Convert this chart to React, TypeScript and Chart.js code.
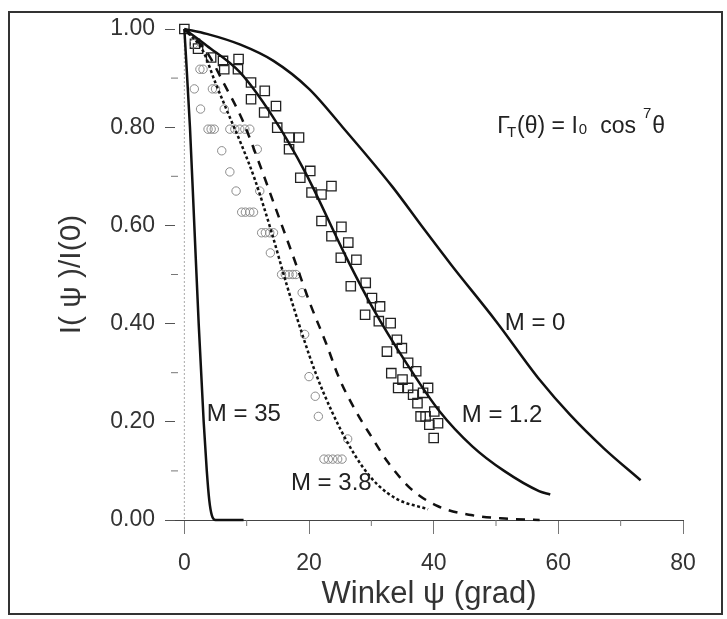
import React, { useEffect, useRef } from 'react';
import { Chart, registerables } from 'chart.js';

Chart.register(...registerables);

const FONT = '"Liberation Sans", Arial, sans-serif';

// axis ticks
const X_TICKS = [0, 20, 40, 60, 80];
const X_MINOR = [10, 30, 50, 70];
const Y_TICKS = [0, 0.2, 0.4, 0.6, 0.8, 1.0];
const Y_MINOR = [0.1, 0.3, 0.5, 0.7, 0.9];

// M = 0 (solid)
const M0_X = [0, 3.6, 9, 14.3, 20, 25.4, 33.3, 38.6, 42.8, 50, 57.1, 61.9, 67.3, 73.2];
const M0_Y = [1.0, 0.99, 0.968, 0.935, 0.878, 0.8, 0.68, 0.59, 0.52, 0.405, 0.284, 0.214, 0.146, 0.081];

// M = 1.2 (solid)
const M12_X = [0, 3.6, 8.9, 14.1, 19.4, 25.9, 30.4, 35.6, 40.9, 46.2, 51.3, 56.9, 58.7];
const M12_Y = [1.0, 0.966, 0.912, 0.823, 0.708, 0.537, 0.428, 0.32, 0.222, 0.15, 0.1, 0.059, 0.052];

// dashed curve
const DASH_X = [0, 3.5, 6.3, 9.3, 12, 14.5, 17.6, 20.2, 22.8, 24.8, 27.5, 30.1, 32.7, 36.4, 40.7, 46, 51.4, 57];
const DASH_Y = [1.0, 0.955, 0.89, 0.815, 0.727, 0.64, 0.532, 0.44, 0.358, 0.29, 0.222, 0.168, 0.117, 0.063, 0.028, 0.01, 0.003, 0];

// M = 3.8 (dotted)
const DOT_X = [0, 3, 5, 7.2, 9.3, 11.3, 13.9, 16.4, 19, 21.1, 23.7, 26.3, 28.5, 31, 34.2, 39.1];
const DOT_Y = [1.0, 0.955, 0.89, 0.823, 0.76, 0.694, 0.59, 0.48, 0.375, 0.298, 0.22, 0.155, 0.11, 0.072, 0.042, 0.022];

// M = 35 (solid)
const M35_X = [0, 0.9, 1.6, 2.3, 3.1, 3.6, 4.0, 4.4, 5.0, 9.5];
const M35_Y = [1.0, 0.8, 0.6, 0.4, 0.2, 0.1, 0.04, 0.01, 0, 0];

// squares (measured)
const SQ_X = [0, 1.7, 2.2, 4.3, 6.2, 6.4, 8.7, 8.6, 10.7, 10.7, 12.9, 12.8, 14.7, 14.9, 16.8, 18.4, 16.8, 18.6, 20.2, 20.4, 22.0, 23.6, 22.0, 25.2, 23.6, 26.3, 25.1, 27.6, 26.7, 29.1, 30.1, 31.4, 29.0, 31.2, 33.1, 34.1, 32.5, 34.9, 35.9, 37.2, 33.2, 35.0, 34.3, 35.9, 39.1, 36.7, 38.3, 37.4, 37.9, 38.7, 40.1, 39.3, 40.7, 40.0];
const SQ_Y = [1.0, 0.97, 0.96, 0.942, 0.935, 0.918, 0.939, 0.918, 0.891, 0.857, 0.874, 0.83, 0.843, 0.799, 0.779, 0.779, 0.755, 0.697, 0.711, 0.667, 0.663, 0.68, 0.609, 0.597, 0.578, 0.565, 0.534, 0.53, 0.476, 0.483, 0.452, 0.435, 0.418, 0.405, 0.401, 0.367, 0.343, 0.35, 0.32, 0.303, 0.299, 0.286, 0.269, 0.269, 0.269, 0.255, 0.259, 0.238, 0.211, 0.211, 0.221, 0.194, 0.197, 0.167];

// circles (measured)
const CI_X = [1.5, 2.5, 3.0, 1.6, 4.5, 5.0, 2.6, 6.4, 3.8, 4.3, 4.8, 7.3, 8.1, 8.9, 9.7, 10.5, 6.0, 11.7, 7.3, 8.3, 12.1, 9.2, 9.8, 10.5, 11.1, 12.4, 13.0, 13.7, 14.3, 13.8, 15.6, 16.2, 16.8, 17.4, 17.9, 18.9, 19.3, 20.0, 21.0, 21.5, 26.2, 22.4, 23.1, 23.8, 24.6, 25.3];
const CI_Y = [0.97, 0.918, 0.918, 0.878, 0.878, 0.878, 0.837, 0.837, 0.796, 0.796, 0.796, 0.796, 0.796, 0.796, 0.796, 0.796, 0.752, 0.755, 0.709, 0.67, 0.67, 0.627, 0.627, 0.627, 0.627, 0.585, 0.585, 0.585, 0.585, 0.544, 0.5, 0.5, 0.5, 0.5, 0.5, 0.463, 0.378, 0.292, 0.252, 0.211, 0.165, 0.124, 0.124, 0.124, 0.124, 0.124];

// curve labels
const LABELS = ['M = 0', 'M = 1.2', 'M = 35', 'M = 3.8'];
const LABEL_X = [51.4, 44.5, 3.6, 17.1];
const LABEL_Y = [0.401, 0.214, 0.216, 0.075];

// formula anchor (left, baseline)
const FORMULA_X = 50.2;
const FORMULA_Y = 0.788;

const pts = (xs: number[], ys: number[]) => xs.map((x, i) => ({ x, y: ys[i] }));

const deco = {
  id: 'deco',
  beforeDraw(chart: any) {
    const ctx = chart.ctx;
    ctx.save();
    ctx.fillStyle = '#fff';
    ctx.fillRect(0, 0, chart.width, chart.height);
    ctx.strokeStyle = '#333';
    ctx.lineWidth = 2;
    ctx.strokeRect(9, 12, 713, 602);
    ctx.restore();
  },
  beforeDatasetsDraw(chart: any) {
    const { ctx, chartArea } = chart;
    const xs = chart.scales.x;
    const ys = chart.scales.y;
    ctx.save();
    const p0 = xs.getPixelForValue(0);
    ctx.strokeStyle = '#aaa';
    ctx.lineWidth = 1;
    ctx.setLineDash([2, 2]);
    ctx.beginPath();
    ctx.moveTo(p0, chartArea.top);
    ctx.lineTo(p0, chartArea.bottom);
    ctx.stroke();
    ctx.setLineDash([]);
    ctx.strokeStyle = '#777';
    X_MINOR.forEach((v) => {
      const p = xs.getPixelForValue(v);
      ctx.beginPath();
      ctx.moveTo(p, chartArea.bottom);
      ctx.lineTo(p, chartArea.bottom + 6);
      ctx.stroke();
    });
    Y_MINOR.forEach((v) => {
      const p = ys.getPixelForValue(v);
      ctx.beginPath();
      ctx.moveTo(chartArea.left - 4, p);
      ctx.lineTo(chartArea.left + 3, p);
      ctx.stroke();
    });
    ctx.restore();
  },
  afterDatasetsDraw(chart: any) {
    const { ctx } = chart;
    const xs = chart.scales.x;
    const ys = chart.scales.y;
    ctx.save();
    ctx.fillStyle = '#222';
    ctx.font = `24px ${FONT}`;
    ctx.textAlign = 'left';
    ctx.textBaseline = 'middle';
    LABELS.forEach((t, i) => {
      ctx.fillText(t, xs.getPixelForValue(LABEL_X[i]), ys.getPixelForValue(LABEL_Y[i]));
    });
    // formula
    ctx.textBaseline = 'alphabetic';
    let cx = xs.getPixelForValue(FORMULA_X);
    const by = ys.getPixelForValue(FORMULA_Y);
    const big = `23px ${FONT}`;
    const small = `15px ${FONT}`;
    ctx.font = big;
    ctx.fillText('Γ', cx, by);
    cx += ctx.measureText('Γ').width - 3;
    ctx.font = small;
    ctx.fillText('T', cx, by + 4);
    cx += ctx.measureText('T').width + 1;
    ctx.font = big;
    ctx.fillText('(θ) = I', cx, by);
    cx += ctx.measureText('(θ) = I').width + 1;
    ctx.font = small;
    ctx.fillText('0', cx, by + 1);
    cx += ctx.measureText('0').width + 13;
    ctx.font = big;
    ctx.fillText('cos', cx, by);
    cx += ctx.measureText('cos').width + 7;
    ctx.font = small;
    ctx.fillText('7', cx, by - 15);
    cx += ctx.measureText('7').width + 1;
    ctx.font = big;
    ctx.fillText('θ', cx, by);
    ctx.restore();
  },
};

export default function App() {
  const ref = useRef<HTMLCanvasElement>(null);
  useEffect(() => {
    if (!ref.current) return;
    const line = (xs: number[], ys: number[], dash: number[]) => ({
      data: pts(xs, ys),
      showLine: true,
      borderColor: '#111',
      borderWidth: 2.5,
      borderDash: dash,
      pointRadius: 0,
      cubicInterpolationMode: 'monotone',
      fill: false,
      clip: false,
    });
    const chart = new Chart(ref.current, {
      type: 'scatter',
      data: {
        datasets: [
          line(M0_X, M0_Y, []),
          line(M12_X, M12_Y, []),
          line(DASH_X, DASH_Y, [9, 8]),
          line(DOT_X, DOT_Y, [3, 2.5]),
          line(M35_X, M35_Y, []),
          {
            data: pts(CI_X, CI_Y),
            showLine: false,
            pointStyle: 'circle',
            pointRadius: 4.2,
            pointBorderColor: '#8c8c8c',
            pointBackgroundColor: 'rgba(0,0,0,0)',
            pointBorderWidth: 1,
            clip: false,
          },
          {
            data: pts(SQ_X, SQ_Y),
            showLine: false,
            pointStyle: 'rect',
            pointRadius: 6.6,
            pointBorderColor: '#222',
            pointBackgroundColor: 'rgba(0,0,0,0)',
            pointBorderWidth: 1.3,
            clip: false,
          },
        ] as any,
      },
      options: {
        responsive: false,
        animation: false,
        devicePixelRatio: 1,
        layout: { padding: { left: 54, right: 44, top: 29, bottom: 6 } },
        plugins: { legend: { display: false }, tooltip: { enabled: false } },
        scales: {
          x: {
            type: 'linear',
            min: -1.5,
            max: 80,
            afterBuildTicks: (s: any) => {
              s.ticks = X_TICKS.map((v) => ({ value: v }));
            },
            afterFit: (s: any) => {
              s.height = 93;
            },
            ticks: { font: { family: FONT, size: 23 }, color: '#333', padding: 16, maxRotation: 0 },
            grid: { drawOnChartArea: false, tickLength: 14, tickColor: '#777', tickWidth: 1 },
            border: { display: true, color: '#444', width: 1 },
            title: { display: true, text: 'Winkel ψ (grad)', font: { family: FONT, size: 31 }, color: '#333', padding: 0 },
          },
          y: {
            type: 'linear',
            min: 0,
            max: 1,
            afterBuildTicks: (s: any) => {
              s.ticks = Y_TICKS.map((v) => ({ value: v }));
            },
            afterFit: (s: any) => {
              s.width = 121;
            },
            ticks: { font: { family: FONT, size: 23 }, color: '#333', padding: 10, callback: (v: any) => Number(v).toFixed(2) },
            grid: { drawOnChartArea: false, tickLength: 10, tickColor: '#555', tickWidth: 1 },
            border: { display: false },
            title: { display: true, text: 'I( ψ )/I(0)', font: { family: FONT, size: 30 }, color: '#333', padding: 0 },
          },
        },
      } as any,
      plugins: [deco],
    });
    return () => chart.destroy();
  }, []);
  return (
    <div style={{ position: 'fixed', left: 0, top: 0, width: 727, height: 619, background: '#fff' }}>
      <canvas ref={ref} width={727} height={619} style={{ display: 'block', width: 727, height: 619 }} />
    </div>
  );
}
